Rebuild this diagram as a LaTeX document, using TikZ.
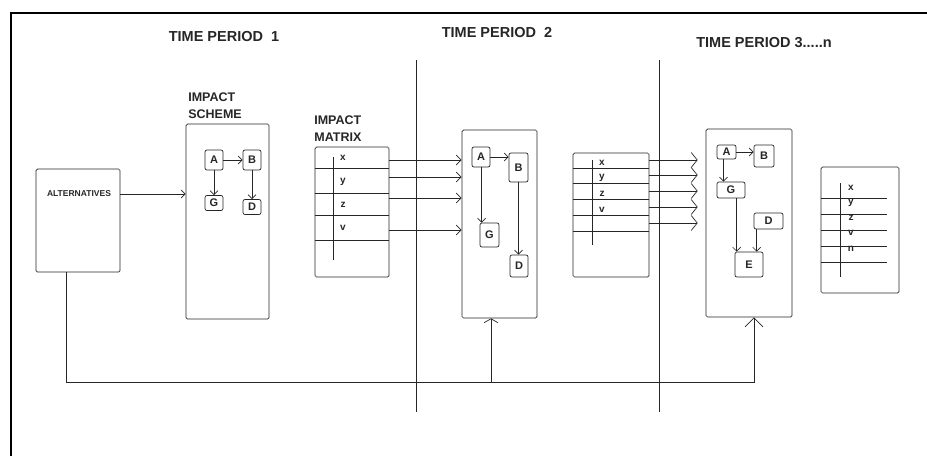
\documentclass[tikz,border=0pt]{standalone}
\usepackage{fontspec}
\setmainfont{Liberation Sans}
\usetikzlibrary{arrows.meta}

\begin{document}
\begin{tikzpicture}[
    x=1pt, y=-1pt, color=black!85, line width=0.7pt,
    panel/.style={draw, rounded corners=1.5pt, inner sep=0pt},
    cell/.style={draw, rounded corners=2pt, inner sep=0pt, font=\bfseries\fontsize{11}{11}\selectfont},
    matbox/.style={draw, rounded corners=1.5pt, inner sep=0pt},
    period/.style={font=\bfseries\fontsize{14.5}{16}\selectfont, inner sep=0pt},
    tag/.style={font=\bfseries\fontsize{12.5}{17.5}\selectfont, align=left, inner sep=0pt, anchor=north west},
    entry/.style={font=\bfseries\fontsize{10}{10}\selectfont, inner sep=0pt},
    link/.style={-{Straight Barb[length=4pt,width=8pt]}},
    feed/.style={-{Straight Barb[length=5pt,width=10pt]}},
    wave/.style={-{Straight Barb[length=6pt,width=15pt]}, shorten >=8pt}
]
\useasboundingbox (0,0) rectangle (927,456);
\draw[line width=2pt, black] (11,456) -- (11,13) -- (927,13);

% period titles and dividers
\node[period] (tp1) at (224,37) {TIME PERIOD\ \ 1};
\node[period] (tp2) at (497,33) {TIME PERIOD\ \ 2};
\node[period] (tp3) at (764,43) {TIME PERIOD 3.....n};
\draw (416,60) -- (416,412);
\draw (659,60) -- (659,412);

% alternatives
\node[panel, minimum width=84pt, minimum height=103pt] (alt) at (78,220.5) {};
\node[entry, font=\bfseries\fontsize{8.5}{9}\selectfont] (altlbl) at (79,194) {ALTERNATIVES};

% period 1
\node[panel, minimum width=83pt, minimum height=195pt] (sch1) at (227.5,221.5) {};
\node[tag] (sch1lbl) at (188,92) {IMPACT\\SCHEME};
\node[cell, minimum width=18pt, minimum height=20pt] (a1) at (214,160) {A};
\node[cell, minimum width=18pt, minimum height=20pt] (b1) at (252,160) {B};
\node[cell, minimum width=18pt, minimum height=15pt] (g1) at (214,203) {G};
\node[cell, minimum width=18pt, minimum height=15pt] (d1) at (252,207) {D};
\draw[link] (a1) -- (b1);
\draw[link] (a1) -- (g1);
\draw[link] (b1) -- (d1);
\draw[link] (altlbl.east -| alt.east) -- (altlbl.east -| sch1.west);

\node[matbox, minimum width=74pt, minimum height=130pt] (mat1) at (352,212) {};
\node[tag] (mat1lbl) at (314,115) {IMPACT\\MATRIX};
\foreach \y in {168,193,215,240} \draw (mat1.west |- 0,\y) -- (mat1.east |- 0,\y);
\draw (333,157) -- (333,260);
\foreach \t/\y in {x/158,y/182,z/205,v/228} \node[entry] (m1\t) at (343,\y) {\t};

% period 2
\node[panel, minimum width=75pt, minimum height=188pt] (sch2) at (499.5,224) {};
\node[cell, minimum width=18pt, minimum height=20pt] (a2) at (481,157) {A};
\node[cell, minimum width=19pt, minimum height=29pt] (b2) at (518.5,167.5) {B};
\node[cell, minimum width=19pt, minimum height=24pt] (g2) at (489.5,235) {G};
\node[cell, minimum width=18pt, minimum height=22pt] (d2) at (519,266) {D};
\draw[link] (a2.east) -- (a2.east -| b2.west);
\draw[link] ([xshift=2pt]g2.north west |- a2.south) -- ([xshift=2pt]g2.north west);
\draw[link] (b2.south) -- (b2.south |- d2.north);
\foreach \y in {160,177,198,230} \draw[feed] (mat1.east |- 0,\y) -- (sch2.west |- 0,\y);

\node[matbox, minimum width=76pt, minimum height=124pt] (mat2) at (611,215) {};
\foreach \y in {168,183,199,215,231} \draw (mat2.west |- 0,\y) -- (mat2.east |- 0,\y);
\draw (592,160) -- (592,245);
\foreach \t/\y in {x/163,y/178,z/194,v/210} \node[entry] (m2\t) at (602,\y) {\t};

% period 3..n
\node[panel, minimum width=86pt, minimum height=188pt] (sch3) at (749,223) {};
\node[cell, minimum width=19pt, minimum height=14pt] (a3) at (726.5,152) {A};
\node[cell, minimum width=20pt, minimum height=22pt] (b3) at (764,156) {B};
\node[cell, minimum width=28pt, minimum height=16pt] (g3) at (731,190) {G};
\node[cell, minimum width=29pt, minimum height=16pt] (d3) at (768.5,221) {D};
\node[cell, minimum width=28pt, minimum height=25pt] (e3) at (749,264.5) {E};
\draw[link] (a3.east) -- (a3.east -| b3.west);
\draw[link] ([xshift=-3pt]a3.south) -- ([xshift=-3pt]a3.south |- g3.north);
\draw[link] ([xshift=2pt]e3.north west |- g3.south) -- ([xshift=2pt]e3.north west);
\draw[link] ([xshift=3pt]d3.south west) -- ([xshift=3pt]d3.south west |- e3.north);
\foreach \y in {160,175,191,207,223} \draw[wave] (mat2.east |- 0,\y) -- (sch3.west |- 0,\y);

\node[matbox, minimum width=78pt, minimum height=126pt] (mat3) at (860,230) {};
\foreach \y in {198,214,230,246,262} \draw (mat3.west |- 0,\y) -- ([xshift=-12pt]mat3.east |- 0,\y);
\draw (840,183) -- (840,277);
\foreach \t/\y in {x/188,y/203,z/218,v/233,n/249} \node[entry] (m3\t) at (851,\y) {\t};

% feedback to later periods
\coordinate (bus) at (66,382);
\draw[-{Straight Barb[length=9pt,width=18pt]}] ([xshift=-12pt]alt.south) |- ([xshift=5pt]sch3.south |- bus) -- ([xshift=5pt]sch3.south);
\draw[-{Straight Barb[length=4pt,width=14pt]}] ([xshift=-8.5pt]sch2.south |- bus) -- ([xshift=-8.5pt]sch2.south);
\end{tikzpicture}
\end{document}
